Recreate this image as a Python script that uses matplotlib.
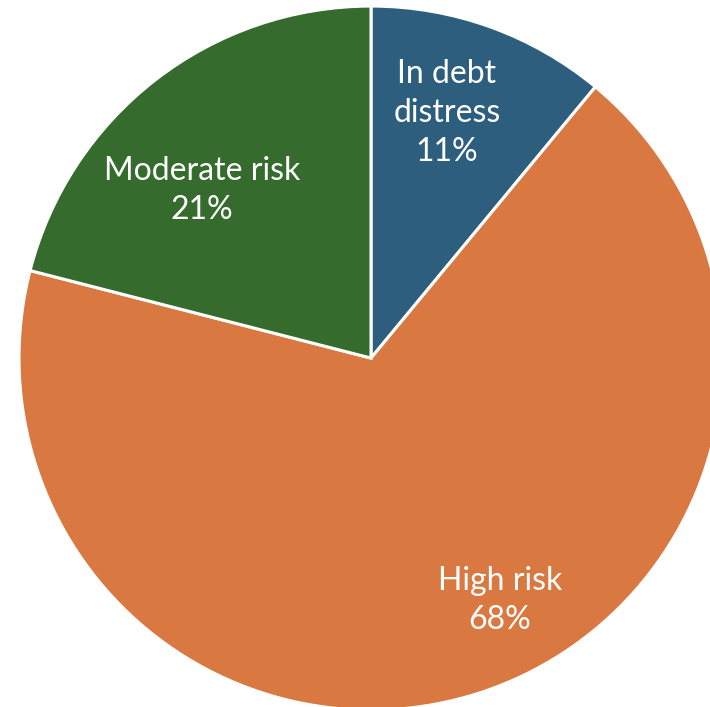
import matplotlib.pyplot as plt

labels = ["In debt\ndistress", "High risk", "Moderate risk"]
shares = [11, 68, 21]
colors = ["#2E5E7E", "#D97941", "#366B2E"]
label_pos = [(0.216, 0.696), (0.366, -0.688), (-0.48, 0.477)]

fig = plt.figure(figsize=(7.1, 7.07), dpi=100)
ax = fig.add_axes([0, 0, 1, 1])

ax.pie(shares, colors=colors, startangle=90, counterclock=False, radius=1,
       wedgeprops=dict(edgecolor="white", linewidth=2.2))

for lab, val, (x, y) in zip(labels, shares, label_pos):
    ax.text(x, y, f"{lab}\n{val}%", ha="center", va="center", color="white",
            fontsize=23, family="Lato", linespacing=1.38)

ax.set_xlim(-1.054, 0.963)
ax.set_ylim(-0.991, 1.017)
ax.set_aspect("equal")
ax.axis("off")

fig.savefig("out.png", dpi=100)
